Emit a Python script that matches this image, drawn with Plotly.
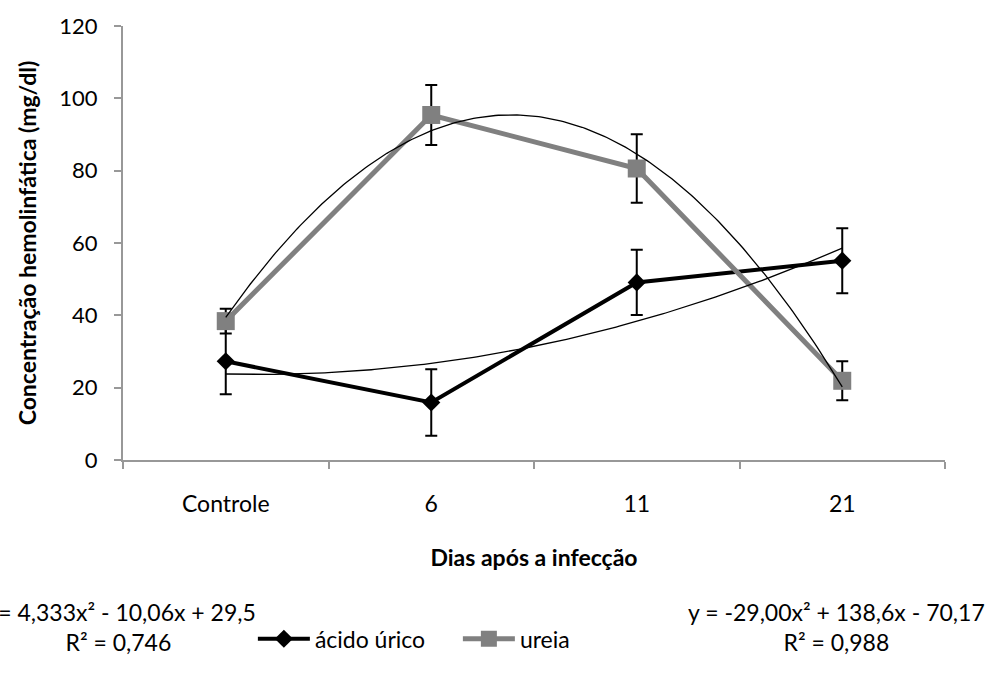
import numpy as np
import plotly.graph_objects as go

# Sampling days and mean haemolymph concentrations (mg/dl)
categories = ["Controle", "6", "11", "21"]
acido_urico = [27.3, 15.9, 49.1, 55.1]
acido_urico_err = [9.1, 9.2, 9.0, 9.0]
ureia = [38.4, 95.4, 80.6, 21.9]
ureia_err = [3.4, 8.3, 9.5, 5.4]

# Second-order polynomial trendlines (x = 1..4 for the four sampling points)
acido_coef = [4.333, -10.06, 29.5]
acido_r2 = 0.746
ureia_coef = [-29.00, 138.6, -70.17]
ureia_r2 = 0.988

y_ticks = [0, 20, 40, 60, 80, 100, 120]

FONT = "Lato"
FS = 23
AXIS_GREY = "#989898"


def fmt(v, nd):
    return f"{v:.{nd}f}".replace(".", ",")


def equation(coef, nd, r2):
    a, b, c = coef
    sb = "-" if b < 0 else "+"
    sc = "-" if c < 0 else "+"
    return (f"y = {fmt(a, nd[0])}x² {sb} {fmt(abs(b), nd[1])}x {sc} {fmt(abs(c), nd[2])}"
            f"<br>R² = {fmt(r2, 3)}")


xs = np.arange(1, len(categories) + 1)
xt = np.linspace(xs[0], xs[-1], 200)

fig = go.Figure()

fig.add_trace(go.Scatter(
    x=categories, y=acido_urico, name="ácido úrico", mode="lines+markers",
    line=dict(color="black", width=4),
    marker=dict(symbol="diamond", size=14, color="black"),
    error_y=dict(type="data", array=acido_urico_err, color="black", thickness=2, width=6),
))
fig.add_trace(go.Scatter(
    x=categories, y=ureia, name="ureia", mode="lines+markers",
    line=dict(color="#808080", width=5),
    marker=dict(symbol="square", size=18, color="#808080"),
    error_y=dict(type="data", array=ureia_err, color="black", thickness=2, width=6),
))

for coef in (acido_coef, ureia_coef):
    fig.add_trace(go.Scatter(
        x=xt, y=np.polyval(coef, xt), xaxis="x2", mode="lines",
        line=dict(color="black", width=1.3), showlegend=False, hoverinfo="skip",
    ))

fig.add_annotation(
    text=equation(acido_coef, (3, 2, 1), acido_r2), xref="paper", yref="paper",
    x=-0.006, y=-0.384, xanchor="center", yanchor="middle", align="center",
    showarrow=False, font=dict(family=FONT, size=FS, color="black"),
)
fig.add_annotation(
    text=equation(ureia_coef, (2, 1, 2), ureia_r2), xref="paper", yref="paper",
    x=0.868, y=-0.384, xanchor="center", yanchor="middle", align="center",
    showarrow=False, font=dict(family=FONT, size=FS, color="black"),
)

fig.update_layout(
    width=995, height=673,
    margin=dict(l=123, r=50, t=26, b=210),
    paper_bgcolor="white", plot_bgcolor="white",
    font=dict(family=FONT, size=FS, color="black"),
    showlegend=True,
    legend=dict(
        orientation="h", x=0.158, y=-0.412, xanchor="left", yanchor="middle",
        font=dict(family=FONT, size=FS, color="black"), itemwidth=52,
        entrywidth=138, entrywidthmode="pixels",
        traceorder="normal",
    ),
    xaxis=dict(
        type="category", categoryorder="array", categoryarray=categories,
        range=[-0.5, len(categories) - 0.5],
        showline=True, linecolor=AXIS_GREY, linewidth=2,
        ticks="outside", tickson="boundaries", ticklen=7, tickcolor=AXIS_GREY, tickwidth=2,
        showgrid=False, zeroline=False,
        tickfont=dict(family=FONT, size=FS, color="black"),
        ticklabelstandoff=22,
        title=dict(text="<b>Dias após a infecção</b>", standoff=34,
                   font=dict(family=FONT, size=FS, color="black")),
    ),
    xaxis2=dict(
        overlaying="x", range=[0.5, len(categories) + 0.5], visible=False,
    ),
    yaxis=dict(
        range=[0, 120], tickvals=y_ticks,
        showline=True, linecolor=AXIS_GREY, linewidth=2,
        ticks="outside", ticklen=7, tickcolor=AXIS_GREY, tickwidth=2,
        showgrid=False, zeroline=False,
        tickfont=dict(family=FONT, size=22, color="black"),
        ticklabelstandoff=12,
        title=dict(text="<b>Concentração hemolinfática (mg/dl)</b>", standoff=16,
                   font=dict(family=FONT, size=FS, color="black")),
    ),
)

fig.write_html("out.html")
